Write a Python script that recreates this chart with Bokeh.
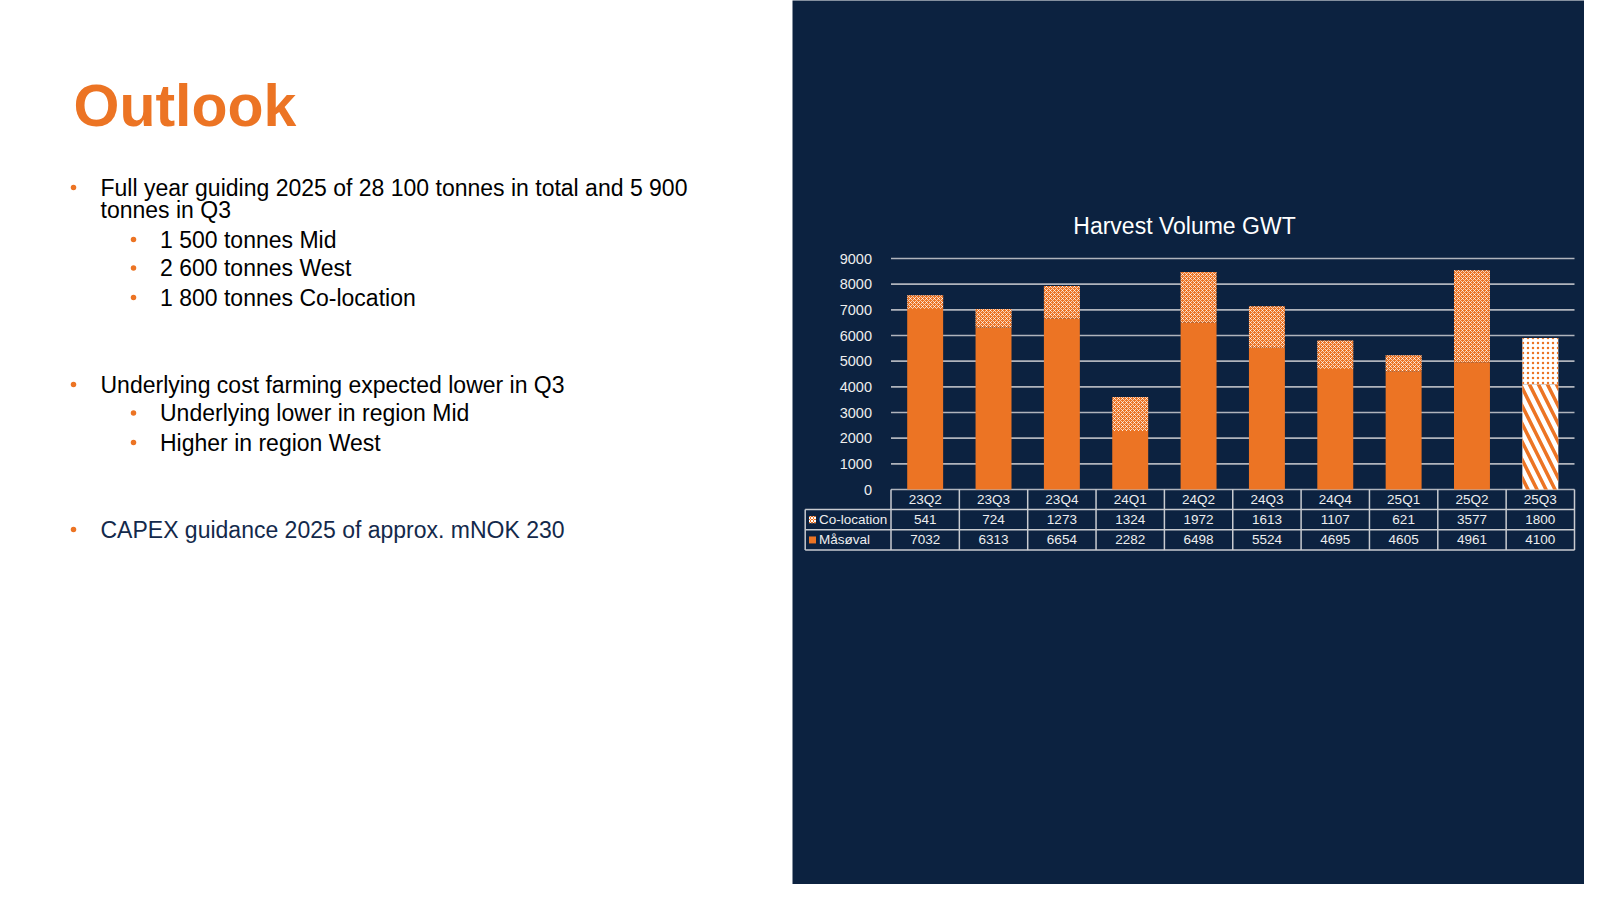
from bokeh.plotting import figure
from bokeh.models import Range1d, LinearAxis, FixedTicker
from bokeh.core.properties import value
from bokeh.embed import file_html
from bokeh.resources import INLINE

# ---------------- data ----------------
quarters = ["23Q2", "23Q3", "23Q4", "24Q1", "24Q2", "24Q3", "24Q4", "25Q1", "25Q2", "25Q3"]
masoval = [7032, 6313, 6654, 2282, 6498, 5524, 4695, 4605, 4961, 4100]
colocation = [541, 724, 1273, 1324, 1972, 1613, 1107, 621, 3577, 1800]
is_forecast = [False, False, False, False, False, False, False, False, False, True]
y_ticks = [0, 1000, 2000, 3000, 4000, 5000, 6000, 7000, 8000, 9000]
series_names = ["Co-location", "Måsøval"]
chart_title = "Harvest Volume GWT"
slide_title = "Outlook"
outlook_texts = [
    "Full year guiding 2025 of 28 100 tonnes in total and 5 900",
    "tonnes in Q3",
    "1 500 tonnes Mid",
    "2 600 tonnes West",
    "1 800 tonnes Co-location",
    "Underlying cost farming expected lower in Q3",
    "Underlying lower in region Mid",
    "Higher in region West",
    "CAPEX guidance 2025 of approx. mNOK 230",
]
outlook_levels = [1, 0, 2, 2, 2, 1, 2, 2, 1]  # 0 = continuation line

# ---------------- styling / layout (slide pixel coordinates, 1600x900) ----------------
SW, SH = 1600, 900
M = 8
NAVY = "#0c2240"
ORANGE = "#ec7424"
GRID = "#b0b4bc"
TXT_LIGHT = "#eeeeee"
FONT = "Liberation Sans"
PANEL_L = 800
PLOT_L, PLOT_R = 898.5, 1582
Y0, YTOP = 497, 266
LEG_L = 812.7
ROW_EDGES = [497, 517, 537.3, 557.6]
line_mids = [195, 217, 247, 275.5, 305, 392, 420.5, 450, 537]
line_colors = ["#000000"] * 8 + ["#13294b"]
LEVEL_X = {0: 108, 1: 108, 2: 167.5}
BULLET_X = {1: 81, 2: 141}

p = figure(width=SW - 2 * M, height=SH - 2 * M, x_range=Range1d(M, SW - M),
           y_range=Range1d(SH - M, M),
           x_axis_type=None, y_axis_type=None, toolbar_location=None,
           output_backend="svg", min_border=0, outline_line_color=None,
           background_fill_color="white", border_fill_color="white")
p.grid.visible = False

n = len(quarters)
col_w = (PLOT_R - PLOT_L) / n
p.extra_x_ranges["bx"] = Range1d(-0.5 - (PLOT_L - M) / col_w, n - 0.5 + (SW - M - PLOT_R) / col_w)
ppu = (Y0 - YTOP) / max(y_ticks)
p.extra_y_ranges["by"] = Range1d(-(SH - M - Y0) / ppu, (Y0 - M) / ppu)

# right navy panel
p.quad(left=[PANEL_L], right=[SW], top=[0], bottom=[SH], fill_color=NAVY, line_color=None)

# ---------------- left text ----------------
p.text(x=[81], y=[113], text=[slide_title], text_font=value(FONT), text_font_style="bold",
       text_font_size="59px", text_color=ORANGE, text_baseline="middle")

xs = [LEVEL_X[l] for l in outlook_levels]
p.text(x=xs, y=line_mids, text=outlook_texts, text_font=value(FONT),
       text_font_size="23px", text_color=line_colors, text_baseline="middle")
bx_ = [BULLET_X[l] for l in outlook_levels if l > 0]
by_ = [b for b, l in zip(line_mids, outlook_levels) if l > 0]
p.scatter(x=bx_, y=by_, size=5.5, marker="circle", fill_color=ORANGE, line_color=None)

# ---------------- chart ----------------
p.text(x=[1192], y=[233], text=[chart_title], text_font=value(FONT),
       text_font_size="23px", text_color="white", text_align="center", text_baseline="middle")

idx = list(range(n))
p.segment(x0=[-0.5] * len(y_ticks), x1=[n - 0.5] * len(y_ticks), y0=y_ticks, y1=y_ticks,
          x_range_name="bx", y_range_name="by", line_color=GRID, line_width=1.6)

act = [i for i in idx if not is_forecast[i]]
fc = [i for i in idx if is_forecast[i]]
tops = [m + c for m, c in zip(masoval, colocation)]
BW = 0.526

p.vbar(x=act, width=BW, bottom=0, top=[masoval[i] for i in act],
       x_range_name="bx", y_range_name="by", fill_color=ORANGE, line_color=None)
p.vbar(x=act, width=BW, bottom=[masoval[i] for i in act], top=[tops[i] for i in act],
       x_range_name="bx", y_range_name="by", fill_color=ORANGE, line_color=None,
       hatch_pattern="diagonal_cross", hatch_color="white", hatch_alpha=0.7,
       hatch_scale=4, hatch_weight=1)
p.vbar(x=fc, width=BW, bottom=0, top=[masoval[i] for i in fc],
       x_range_name="bx", y_range_name="by", fill_color="white", line_color=None,
       hatch_pattern="left_diagonal_line", hatch_color=ORANGE,
       hatch_scale=18, hatch_weight=3.5)
p.vbar(x=fc, width=BW, bottom=[masoval[i] for i in fc], top=[tops[i] for i in fc],
       x_range_name="bx", y_range_name="by", fill_color="white", line_color=None,
       hatch_pattern="dot", hatch_color=ORANGE, hatch_scale=5, hatch_weight=0.6)

yax = LinearAxis(y_range_name="by", fixed_location=PLOT_L, ticker=FixedTicker(ticks=y_ticks),
                 axis_line_color=None, major_tick_line_color=None, minor_tick_line_color=None,
                 major_label_standoff=13, major_label_text_color=TXT_LIGHT,
                 major_label_text_font=FONT, major_label_text_font_size="14.5px")
p.add_layout(yax, "left")

# ---------------- data table ----------------
TBL = "#c8cbd0"
p.segment(x0=[LEG_L] * 3, x1=[PLOT_R] * 3, y0=ROW_EDGES[1:], y1=ROW_EDGES[1:],
          line_color=TBL, line_width=1.5)
bounds = [i - 0.5 for i in range(n + 1)]
p.segment(x0=bounds, x1=bounds, y0=[ROW_EDGES[0]] * len(bounds), y1=[ROW_EDGES[-1]] * len(bounds),
          x_range_name="bx", line_color=TBL, line_width=1.5)
p.segment(x0=[LEG_L], x1=[LEG_L], y0=[ROW_EDGES[1]], y1=[ROW_EDGES[-1]],
          line_color=TBL, line_width=1.5)

mid = [(a + b) / 2 for a, b in zip(ROW_EDGES[:-1], ROW_EDGES[1:])]
tfont = dict(text_font=value(FONT), text_font_size="13.5px", text_color=TXT_LIGHT,
             text_baseline="middle")
p.text(x=idx, y=[mid[0]] * n, text=quarters, x_range_name="bx", text_align="center", **tfont)
p.text(x=idx, y=[mid[1]] * n, text=[str(v) for v in colocation], x_range_name="bx",
       text_align="center", **tfont)
p.text(x=idx, y=[mid[2]] * n, text=[str(v) for v in masoval], x_range_name="bx",
       text_align="center", **tfont)
p.text(x=[826.5, 826.5], y=[mid[1], mid[2]], text=series_names, text_align="left", **tfont)
p.rect(x=[820], y=[mid[1]], width=7, height=7, fill_color=ORANGE, line_color=None,
       hatch_pattern="diagonal_cross", hatch_color="white", hatch_scale=3, hatch_weight=1)
p.rect(x=[820], y=[mid[2]], width=7, height=7, fill_color=ORANGE, line_color=None)

open("out.html", "w").write(file_html(p, INLINE))
